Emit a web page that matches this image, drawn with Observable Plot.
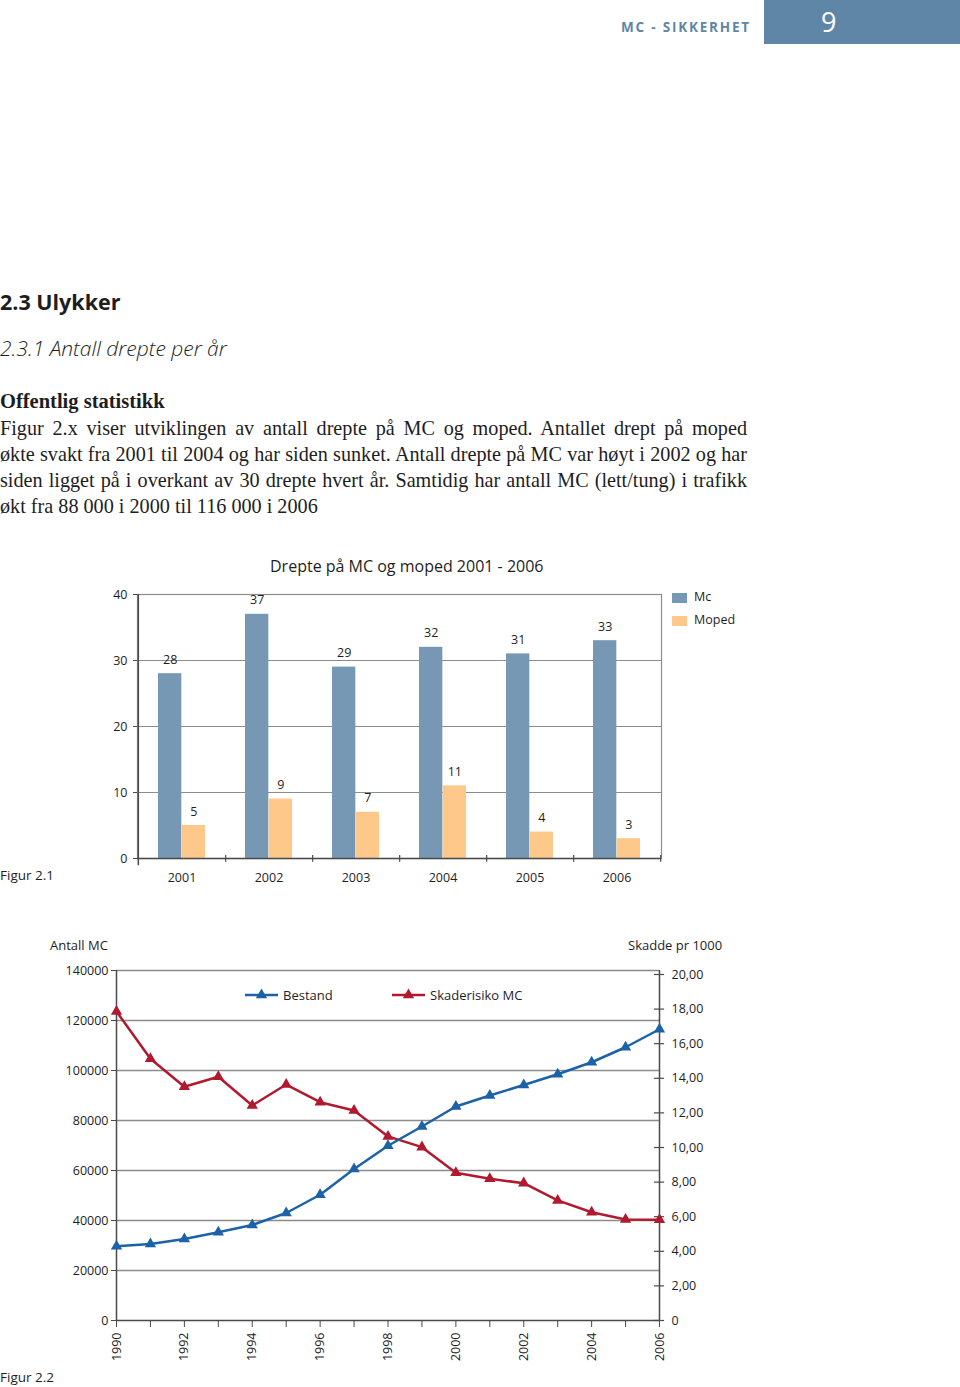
<!DOCTYPE html>
<html>
<head>
<meta charset="utf-8">
<script src="https://cdn.jsdelivr.net/npm/d3@7"></script>
<script src="https://cdn.jsdelivr.net/npm/@observablehq/plot@0.6"></script>
<style>
  html, body { margin: 0; padding: 0; background: #fff; }
  #page { position: relative; width: 960px; height: 1387px; overflow: hidden; background: #fff; color: #1e1e1e; }
  .abs { position: absolute; white-space: nowrap; }
  .sans { font-family: "Open Sans", "Noto Sans", sans-serif; }
  .serif { font-family: "Liberation Serif", "DejaVu Serif", serif; }
  .line { position: absolute; left: 0; width: 747px; text-align: justify; text-align-last: justify; white-space: nowrap; font-size: 20.2px; line-height: 26px; }
  .lastline { text-align-last: left; }
  .chart { position: absolute; left: 0; }
  .chart svg { overflow: visible; }
</style>
</head>
<body>
<div id="page">
  <div class="abs sans" style="left:621px; top:17px; line-height:20px; font-size:13.5px; font-weight:700; letter-spacing:1.8px; color:#5f86a6;">MC - SIKKERHET</div>
  <div class="abs" style="left:764px; top:0; width:196px; height:44px; background:#5f86a6;"></div>
  <div class="abs sans" style="left:821px; top:5px; line-height:34px; font-size:27px; color:#fff;">9</div>

  <div class="abs sans" style="left:0; top:288px; line-height:28px; font-size:21.5px; font-weight:700;">2.3 Ulykker</div>
  <div class="abs sans" style="left:0; top:334px; line-height:28px; font-size:21px; font-style:italic; font-weight:300;">2.3.1 Antall drepte per år</div>

  <div class="abs serif" style="left:0; top:388px; line-height:26px; font-size:20.5px; font-weight:700;">Offentlig statistikk</div>
  <div id="body"></div>

  <div id="title1" class="abs sans" style="left:270px; top:555px; line-height:22px; font-size:16px;">Drepte på MC og moped 2001 - 2006</div>
  <div id="chart1" class="chart" style="top:580px;"></div>
  <div id="legend1"></div>
  <div class="abs sans" style="left:0; top:865px; line-height:20px; font-size:13.5px;">Figur 2.1</div>

  <div class="abs sans" style="left:50px; top:935px; line-height:20px; font-size:13px;">Antall MC</div>
  <div class="abs sans" style="left:628px; top:935px; line-height:20px; font-size:13px;">Skadde pr 1000</div>
  <div id="chart2" class="chart" style="top:955px;"></div>
  <div id="legend2"></div>
  <div class="abs sans" style="left:0; top:1367px; line-height:20px; font-size:13.5px;">Figur 2.2</div>
</div>
<script>
// ---------- text ----------
const bodyLines = [
  "Figur 2.x viser utviklingen av antall drepte på MC og moped. Antallet drept på moped",
  "økte svakt fra 2001 til 2004 og har siden sunket. Antall drepte på MC var høyt i 2002 og har",
  "siden ligget på i overkant av 30 drepte hvert år. Samtidig har antall MC (lett/tung) i trafikk",
  "økt fra 88 000 i 2000 til 116 000 i 2006"
];

// ---------- chart 1 data ----------
const years1 = ["2001", "2002", "2003", "2004", "2005", "2006"];
const mcKilled = [28, 37, 29, 32, 31, 33];
const mopedKilled = [5, 9, 7, 11, 4, 3];
const yTicks1 = [0, 10, 20, 30, 40];
const series1 = ["Mc", "Moped"];
const colors1 = ["#7698b4", "#fdc88a"];

// ---------- chart 2 data ----------
const years2 = [1990, 1991, 1992, 1993, 1994, 1995, 1996, 1997, 1998, 1999, 2000, 2001, 2002, 2003, 2004, 2005, 2006];
const bestand = [29700, 30600, 32600, 35300, 38200, 43000, 50300, 60600, 69900, 77600, 85600, 90000, 94200, 98500, 103300, 109300, 116500];
const skaderisiko = [17.86, 15.13, 13.51, 14.09, 12.43, 13.64, 12.62, 12.14, 10.64, 10.02, 8.54, 8.19, 7.94, 6.94, 6.26, 5.84, 5.82];
const leftTicks2 = [0, 20000, 40000, 60000, 80000, 100000, 120000, 140000];
const rightTicks2 = [0, 2, 4, 6, 8, 10, 12, 14, 16, 18, 20];
const labelYears2 = [1990, 1992, 1994, 1996, 1998, 2000, 2002, 2004, 2006];
const series2 = ["Bestand", "Skaderisiko MC"];
const colors2 = ["#1c62a8", "#b1192e"];

// body text
const bodyEl = document.getElementById("body");
bodyLines.forEach((t, i) => {
  const d = document.createElement("div");
  d.className = "line serif" + (i === bodyLines.length - 1 ? " lastline" : "");
  d.style.top = (415 + i * 26) + "px";
  d.textContent = t;
  bodyEl.appendChild(d);
});

// ---------- chart 1 ----------
const data1 = years1.map((y, i) => ({year: y, mc: mcKilled[i], moped: mopedKilled[i]}));
const band1 = (661 - 137) / years1.length;   // px per category
const half1 = band1 / 2;
const barGap = 20;                            // inset outside the bar pair
const off1 = (half1 - barGap) / 2;            // bar center offset from category center
const dark = "#4a4a4a";
const grid = "#8c8c8c";

const chart1 = Plot.plot({
  width: 680, height: 308,
  marginLeft: 137, marginRight: 19, marginTop: 14, marginBottom: 30,
  style: {fontFamily: "'Open Sans', sans-serif", fontSize: "12.5px", color: "#1e1e1e", background: "transparent"},
  x: {domain: years1, padding: 0, axis: null},
  y: {domain: [0, 40], axis: null},
  marks: [
    Plot.ruleY(yTicks1.filter(d => d > 0), {stroke: grid, strokeWidth: 1.2}),
    Plot.frame({stroke: grid, strokeWidth: 1.2}),
    Plot.barY(data1, {x: "year", y: "mc", fill: colors1[0], insetLeft: barGap, insetRight: half1}),
    Plot.barY(data1, {x: "year", y: "moped", fill: colors1[1], insetLeft: half1, insetRight: barGap}),
    Plot.text(data1, {x: "year", y: "mc", text: d => String(d.mc), dx: -off1, dy: -14, fontSize: 12.5}),
    Plot.text(data1, {x: "year", y: "moped", text: d => String(d.moped), dx: off1, dy: -14, fontSize: 12.5}),
    Plot.ruleY([0], {stroke: dark, strokeWidth: 1.5}),
    Plot.ruleX(years1.slice(0, 1), {x: d => d, dx: -half1, y1: 0, y2: 40, stroke: dark, strokeWidth: 1.5}),
    Plot.ruleX(years1.slice(0, 1), {x: d => d, dx: -half1, y1: 0, y2: -1.1, stroke: dark, strokeWidth: 1.5}),
    Plot.ruleX(years1, {x: d => d, dx: half1, y1: 0.45, y2: -0.55, stroke: dark, strokeWidth: 1.2}),
    Plot.axisY({ticks: yTicks1, tickSize: 4, tickPadding: 6, tickFormat: d => String(d), stroke: dark, label: null}),
    Plot.axisX({tickSize: 0, tickPadding: 15, tickFormat: d => d, label: null})
  ]
});
document.getElementById("chart1").appendChild(chart1);

// legend 1
const leg1 = document.getElementById("legend1");
series1.forEach((s, i) => {
  const sw = document.createElement("div");
  sw.className = "abs";
  sw.style.cssText = `left:672px; top:${593 + i * 23}px; width:15px; height:10px; background:${colors1[i]};`;
  leg1.appendChild(sw);
  const t = document.createElement("div");
  t.className = "abs sans";
  t.style.cssText = `left:694px; top:${587 + i * 23}px; line-height:20px; font-size:12.5px;`;
  t.textContent = s;
  leg1.appendChild(t);
});

// ---------- chart 2 ----------
const pxPerUnitRight = 346 / 20;     // right axis: 20,00 spans 346px
const pxPerUnitLeft = 350 / 140000;  // left axis: 140000 spans 350px
const k = pxPerUnitRight / pxPerUnitLeft;
const fmtRight = v => v === 0 ? "0" : v.toFixed(2).replace(".", ",");
const data2 = years2.map((y, i) => ({year: y, bestand: bestand[i], risk: skaderisiko[i] * k}));
const yearPx = 0.15;

const chart2 = Plot.plot({
  width: 720, height: 415,
  marginLeft: 116, marginRight: 61, marginTop: 15, marginBottom: 50,
  style: {fontFamily: "'Open Sans', sans-serif", fontSize: "12.5px", color: "#1e1e1e", background: "transparent"},
  x: {domain: [1990, 2006], axis: null},
  y: {domain: [0, 140000], axis: null},
  marks: [
    Plot.ruleY(leftTicks2.filter(d => d > 0), {stroke: grid, strokeWidth: 1.3}),
    Plot.ruleY([0], {stroke: dark, strokeWidth: 1.5}),
    Plot.ruleX([1990, 2006], {y1: 0, y2: 140000, stroke: dark, strokeWidth: 1.5}),
    Plot.axisY({ticks: leftTicks2, tickSize: 5, tickPadding: 3, tickFormat: d => String(d), stroke: dark, label: null}),
    Plot.ruleY(rightTicks2, {y: d => d * k, x1: 2006 - yearPx, x2: 2006 + yearPx, stroke: dark, strokeWidth: 1.2}),
    Plot.text(rightTicks2, {y: d => d * k, x: 2006, text: fmtRight, dx: 12, textAnchor: "start", fontSize: 12.5}),
    Plot.axisX({ticks: years2, tickSize: 7, tickFormat: () => "", stroke: dark, label: null}),
    Plot.axisX({ticks: labelYears2, tickSize: 0, tickPadding: 12, tickRotate: -90, tickFormat: d => String(d), label: null}),
    Plot.line(data2, {x: "year", y: "risk", stroke: colors2[1], strokeWidth: 2.5}),
    Plot.dot(data2, {x: "year", y: "risk", symbol: "triangle", fill: colors2[1], r: 4.2}),
    Plot.line(data2, {x: "year", y: "bestand", stroke: colors2[0], strokeWidth: 2.5}),
    Plot.dot(data2, {x: "year", y: "bestand", symbol: "triangle", fill: colors2[0], r: 4.2})
  ]
});
document.getElementById("chart2").appendChild(chart2);

// legend 2
const leg2 = document.getElementById("legend2");
const legX = [245, 392];
series2.forEach((s, i) => {
  const ic = document.createElementNS("http://www.w3.org/2000/svg", "svg");
  ic.setAttribute("width", "34"); ic.setAttribute("height", "12");
  ic.style.cssText = `position:absolute; left:${legX[i]}px; top:989px; overflow:visible;`;
  ic.innerHTML = `<line x1="0" y1="6" x2="33" y2="6" stroke="${colors2[i]}" stroke-width="2.5"/>` +
    `<path d="${d3.symbol(d3.symbolTriangle, Math.PI * 4.2 * 4.2)()}" transform="translate(16.5,6)" fill="${colors2[i]}"/>`;
  leg2.appendChild(ic);
  const t = document.createElement("div");
  t.className = "abs sans";
  t.style.cssText = `left:${legX[i] + 38}px; top:985px; line-height:20px; font-size:13px;`;
  t.textContent = s;
  leg2.appendChild(t);
});
</script>
</body>
</html>
